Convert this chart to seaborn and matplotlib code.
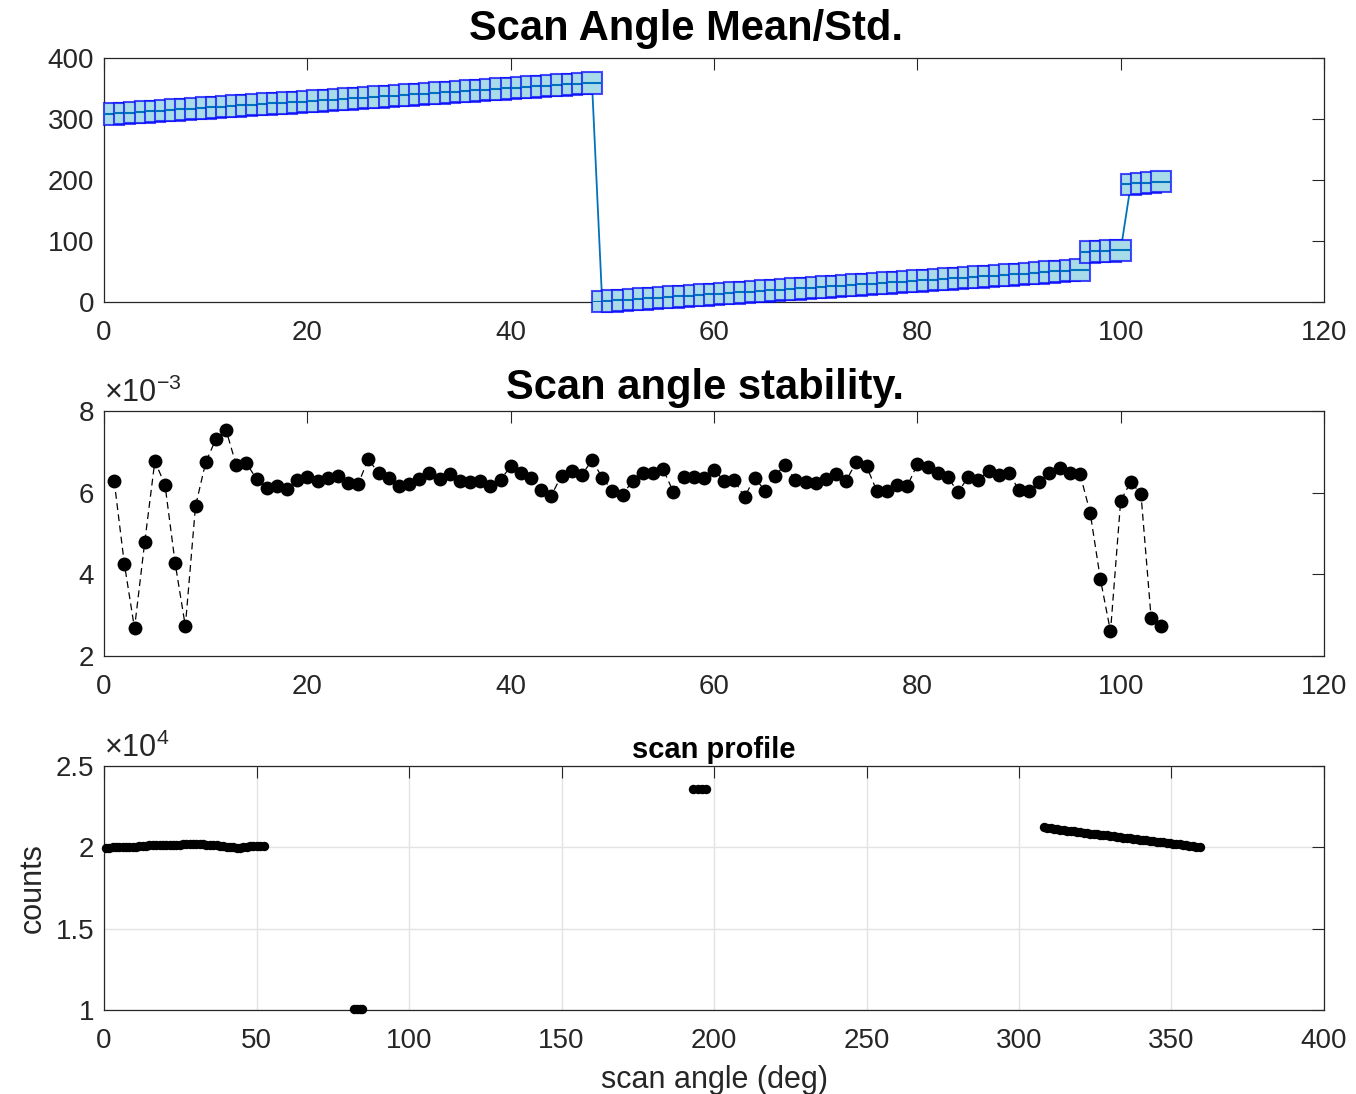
import numpy as np
import pandas as pd
import matplotlib
matplotlib.use("Agg")
import matplotlib.pyplot as plt
import seaborn as sns
from matplotlib.ticker import FuncFormatter

# ---------------------------------------------------------------------------
# Scan-angle mean (deg) for each acquisition step, grouped by sweep segment
angle_mean_seg1 = [308.2, 309.3, 310.4, 311.5, 312.5, 313.6, 314.7, 315.8, 316.9, 318.0,
                   319.1, 320.1, 321.2, 322.3, 323.4, 324.5, 325.6, 326.6, 327.7, 328.8,
                   329.9, 331.0, 332.1, 333.2, 334.2, 335.3, 336.4, 337.5, 338.6, 339.7,
                   340.8, 341.8, 342.9, 344.0, 345.1, 346.2, 347.3, 348.4, 349.4, 350.5,
                   351.6, 352.7, 353.8, 354.9, 355.9, 357.0, 358.1, 359.2]
angle_mean_seg2 = [0.6, 1.7, 2.8, 3.9, 5.0, 6.1, 7.2, 8.3, 9.4, 10.5,
                   11.6, 12.7, 13.8, 14.9, 16.0, 17.1, 18.2, 19.3, 20.4, 21.5,
                   22.6, 23.7, 24.8, 25.9, 27.0, 28.1, 29.2, 30.3, 31.4, 32.5,
                   33.6, 34.7, 35.8, 36.9, 38.0, 39.1, 40.2, 41.3, 42.4, 43.5,
                   44.6, 45.7, 46.8, 47.9, 49.0, 50.1, 51.2, 52.3]
angle_mean_seg3 = [81.9, 82.9, 83.8, 84.7]
angle_mean_seg4 = [193.2, 194.6, 196.0, 197.3]
angle_std = 17.5  # deg, spread of each step

# Scan-angle stability per step (units of 1e-3)
stability_e3 = [6.29, 4.26, 2.68, 4.78, 6.77, 6.19, 4.27, 2.73, 5.67, 6.74,
                7.31, 7.54, 6.68, 6.72, 6.34, 6.11, 6.16, 6.08, 6.30, 6.39,
                6.28, 6.37, 6.41, 6.24, 6.21, 6.83, 6.47, 6.37, 6.16, 6.21,
                6.33, 6.47, 6.34, 6.46, 6.29, 6.27, 6.29, 6.17, 6.31, 6.65,
                6.49, 6.35, 6.07, 5.93, 6.42, 6.54, 6.43, 6.80, 6.37, 6.05,
                5.95, 6.29, 6.49, 6.49, 6.57, 6.02, 6.39, 6.39, 6.35, 6.56,
                6.29, 6.31, 5.89, 6.37, 6.05, 6.42, 6.68, 6.31, 6.27, 6.23,
                6.33, 6.45, 6.29, 6.76, 6.65, 6.05, 6.05, 6.19, 6.16, 6.69,
                6.62, 6.47, 6.38, 6.01, 6.38, 6.31, 6.54, 6.43, 6.47, 6.07,
                6.04, 6.27, 6.47, 6.60, 6.47, 6.46, 5.51, 3.89, 2.60, 5.80,
                6.27, 5.96, 2.92, 2.74]

# Detector counts per step (units of 1e4), same segment order as the angles
counts_seg1 = [2.122, 2.119, 2.116, 2.114, 2.111, 2.108, 2.106, 2.103, 2.100, 2.098,
               2.095, 2.093, 2.090, 2.088, 2.085, 2.083, 2.080, 2.078, 2.075, 2.073,
               2.070, 2.068, 2.065, 2.063, 2.060, 2.058, 2.055, 2.053, 2.050, 2.048,
               2.045, 2.043, 2.040, 2.038, 2.035, 2.033, 2.030, 2.028, 2.025, 2.023,
               2.020, 2.018, 2.015, 2.013, 2.010, 2.008, 2.005, 2.002]
counts_seg2 = [1.998, 1.999, 2.000, 2.000, 2.001, 2.002, 2.002, 2.003, 2.004, 2.005,
               2.006, 2.008, 2.010, 2.012, 2.013, 2.014, 2.015, 2.015, 2.016, 2.016,
               2.016, 2.017, 2.017, 2.018, 2.018, 2.019, 2.019, 2.019, 2.018, 2.018,
               2.017, 2.016, 2.015, 2.013, 2.011, 2.008, 2.005, 2.002, 2.000, 1.999,
               1.999, 2.001, 2.004, 2.006, 2.007, 2.007, 2.008, 2.008]
counts_seg3 = [1.003, 1.003, 1.003, 1.003]
counts_seg4 = [2.358, 2.358, 2.358, 2.358]

x_ticks_step = [0, 20, 40, 60, 80, 100, 120]
y_ticks_mean = [0, 100, 200, 300, 400]
y_ticks_stab = [2, 4, 6, 8]
x_ticks_angle = [0, 50, 100, 150, 200, 250, 300, 350, 400]
y_ticks_counts = [1.0, 1.5, 2.0, 2.5]

# ---------------------------------------------------------------------------
angle_mean = np.array(angle_mean_seg1 + angle_mean_seg2 + angle_mean_seg3 + angle_mean_seg4)
step = np.arange(1, len(angle_mean) + 1)
stability = np.array(stability_e3) * 1e-3
profile = pd.DataFrame({
    "angle": angle_mean,
    "counts": np.array(counts_seg1 + counts_seg2 + counts_seg3 + counts_seg4) * 1e4,
})

sns.set_style("white")
plt.rcParams["font.family"] = ["Liberation Sans", "DejaVu Sans"]
plt.rcParams["mathtext.fontset"] = "custom"
plt.rcParams["mathtext.rm"] = "Liberation Sans"
plt.rcParams["mathtext.it"] = "Liberation Sans:italic"
plt.rcParams["mathtext.bf"] = "Liberation Sans:bold"

INK = "#262626"
MEAN_BLUE = "#0072BD"

fig = plt.figure(figsize=(13.56, 10.94), dpi=100)
ax_mean = fig.add_axes([0.0767, 0.7239, 0.8997, 0.2230])
ax_stab = fig.add_axes([0.0767, 0.4004, 0.8997, 0.2239])
ax_prof = fig.add_axes([0.0767, 0.0768, 0.8997, 0.2230])

for ax in (ax_mean, ax_stab, ax_prof):
    ax.tick_params(direction="in", length=8.6, width=0.8, top=True, right=True,
                   labelsize=20, colors=INK, pad=7)
    ax.tick_params(axis="x", pad=13)
    for sp in ax.spines.values():
        sp.set_color(INK)
        sp.set_linewidth(0.9)
        sp.set_visible(True)

# --- Panel 1: mean angle with spread boxes ---------------------------------
sns.lineplot(x=step, y=angle_mean, ax=ax_mean, color=MEAN_BLUE, linewidth=1.3,
             sort=False, zorder=2)
for k, (xi, mi) in enumerate(zip(step, angle_mean)):
    z = 3 + k * 0.01
    ax_mean.bar(xi, 2 * angle_std, bottom=mi - angle_std, width=2.0,
                color="#A8DCE8", edgecolor=(0.0, 0.0, 1.0, 0.7), linewidth=1.5,
                zorder=z, clip_on=False)
    ax_mean.plot([xi - 1, xi + 1], [mi, mi], color=MEAN_BLUE, linewidth=1.5,
                 zorder=z + 0.005, solid_capstyle="butt")
ax_mean.set_xlim(0, 120)
ax_mean.set_ylim(0, 400)
ax_mean.set_xticks(x_ticks_step)
ax_mean.set_yticks(y_ticks_mean)
ax_mean.set_xlabel("")
ax_mean.set_ylabel("")
ax_mean.set_title("Scan Angle Mean/Std.", fontsize=30, fontweight="bold",
                  x=0.477, pad=13, color="black")

# --- Panel 2: stability ------------------------------------------------------
sns.lineplot(x=step, y=stability, ax=ax_stab, color="black", linewidth=0.9,
             marker="o", markersize=10, markeredgewidth=0, sort=False)
ax_stab.lines[-1].set_dashes((5.5, 3.5))
ax_stab.set_xlim(0, 120)
ax_stab.set_ylim(2e-3, 8e-3)
ax_stab.set_xticks(x_ticks_step)
ax_stab.set_yticks([v * 1e-3 for v in y_ticks_stab])
ax_stab.yaxis.set_major_formatter(FuncFormatter(lambda v, p: f"{v * 1e3:g}"))
ax_stab.set_xlabel("")
ax_stab.set_ylabel("")
ax_stab.set_title("Scan angle stability.", fontsize=30, fontweight="bold",
                  x=0.493, pad=9, color="black")
ax_stab.text(0.0, 1.01, r"$\times10^{-3}$", transform=ax_stab.transAxes,
             ha="left", va="bottom", fontsize=22, color=INK)

# --- Panel 3: scan profile ---------------------------------------------------
ax_prof.grid(True, color="#e3e3e3", linewidth=1.0)
ax_prof.set_axisbelow(True)
sns.scatterplot(data=profile, x="angle", y="counts", ax=ax_prof, color="black",
                s=46, linewidth=0, clip_on=False, zorder=3)
ax_prof.set_xlim(0, 400)
ax_prof.set_ylim(1e4, 2.5e4)
ax_prof.set_xticks(x_ticks_angle)
ax_prof.set_yticks([v * 1e4 for v in y_ticks_counts])
ax_prof.yaxis.set_major_formatter(FuncFormatter(lambda v, p: f"{v / 1e4:g}"))
ax_prof.set_xlabel("scan angle (deg)", fontsize=22, color=INK, labelpad=8)
ax_prof.set_ylabel("counts", fontsize=22, color=INK, labelpad=6)
ax_prof.set_title("scan profile", fontsize=21, fontweight="bold", pad=6,
                  color="black")
ax_prof.text(0.0, 1.01, r"$\times10^{4}$", transform=ax_prof.transAxes,
             ha="left", va="bottom", fontsize=22, color=INK)

fig.savefig("out.png", dpi=100)
